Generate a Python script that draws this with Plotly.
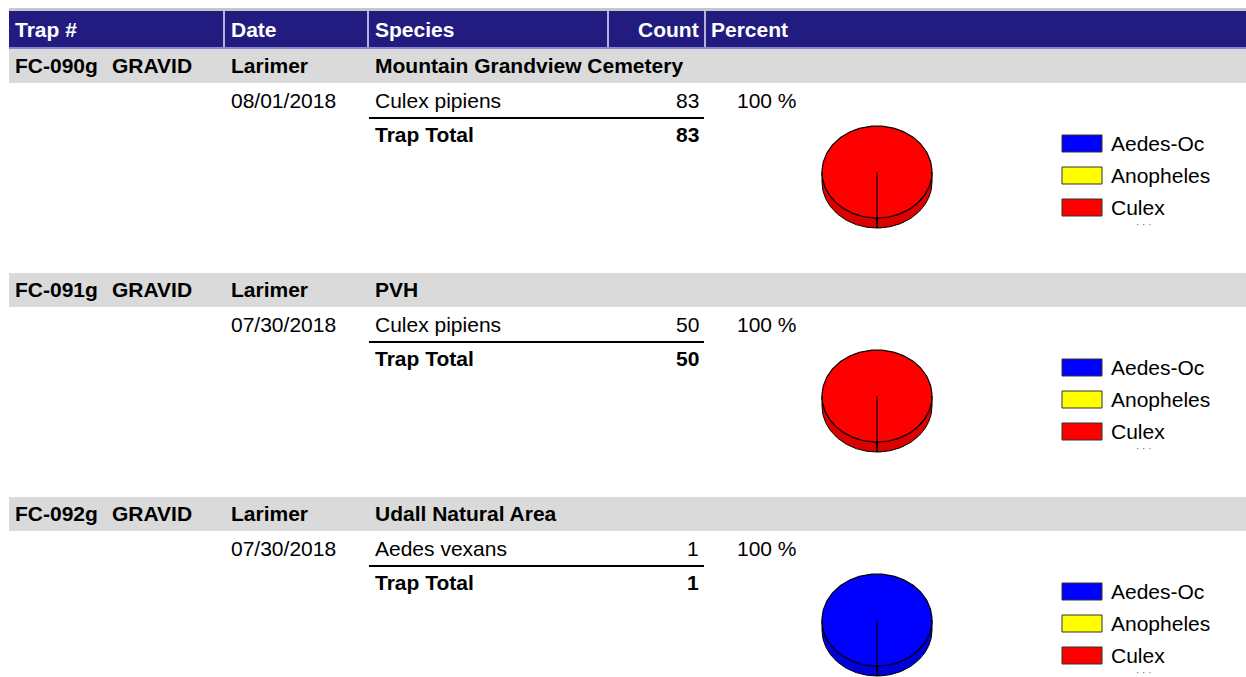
import numpy as np
import plotly.graph_objects as go

# ---------------- data ----------------
headers = ["Trap #", "Date", "Species", "Count", "Percent"]
trap_ids = ["FC-090g", "FC-091g", "FC-092g"]
trap_types = ["GRAVID", "GRAVID", "GRAVID"]
counties = ["Larimer", "Larimer", "Larimer"]
sites = ["Mountain Grandview Cemetery", "PVH", "Udall Natural Area"]
dates = ["08/01/2018", "07/30/2018", "07/30/2018"]
species = ["Culex pipiens", "Culex pipiens", "Aedes vexans"]
counts = [83, 50, 1]
species_genus = ["Culex", "Culex", "Aedes-Oc"]
genus_labels = ["Aedes-Oc", "Anopheles", "Culex"]

# ---------------- styling ----------------
genus_colors = ["#0000FF", "#FFFF00", "#FF0000"]
genus_side = ["#0000D8", "#D8D800", "#DC0000"]
W, H = 1246, 677
SEC = 224
HDR_BLUE = "#231C80"
BAND_GRAY = "#DADADA"
FONT = "Arial, Liberation Sans, sans-serif"
FS = 21

fig = go.Figure()
shapes = []
annots = []


def txt(x, y, s, anchor="left", bold=False, color="black", size=FS):
    annots.append(dict(
        x=x, y=y, xref="x", yref="y", text=f"<b>{s}</b>" if bold else s,
        showarrow=False, xanchor=anchor, yanchor="middle",
        font=dict(family=FONT, size=size, color=color)))


# header bar
shapes.append(dict(type="rect", x0=9, x1=W, y0=8, y1=11, line_width=0,
                   fillcolor="#C8C8C8", layer="below"))
shapes.append(dict(type="rect", x0=9, x1=W, y0=11, y1=47, line_width=0,
                   fillcolor=HDR_BLUE, layer="below"))
shapes.append(dict(type="rect", x0=9, x1=W, y0=47, y1=49, line_width=0,
                   fillcolor="#8C86D2", layer="below"))
for sx in [224, 368, 608, 705]:
    shapes.append(dict(type="line", x0=sx, x1=sx, y0=11, y1=47,
                       line=dict(color="#B4B2D8", width=2)))
hdr_x = [12.5, 228.5, 372.5, 701, 708.5]
hdr_anchor = ["left", "left", "left", "right", "left"]
for hx, ha, ht in zip(hdr_x, hdr_anchor, headers):
    txt(hx, 29, ht, anchor=ha, bold=True, color="white")


def arc(cx, cy, rx, ry, a0, a1):
    n = max(3, int(abs(a1 - a0) / (2 * np.pi) * 240) + 2)
    t = np.linspace(a0, a1, n)
    return cx + rx * np.sin(t), cy + ry * np.cos(t)


for i in range(len(trap_ids)):
    off = i * SEC
    # gray trap band
    shapes.append(dict(type="rect", x0=9, x1=W, y0=49 + off, y1=83 + off,
                       line_width=0, fillcolor=BAND_GRAY, layer="below"))
    txt(12.5, 65 + off, trap_ids[i], bold=True)
    txt(109.5, 65 + off, trap_types[i], bold=True)
    txt(228.5, 65 + off, counties[i], bold=True)
    txt(372.5, 65 + off, sites[i], bold=True)

    total = counts[i]
    pct = counts[i] / total * 100
    txt(228.5, 100.5 + off, dates[i])
    txt(372.5, 100.5 + off, species[i])
    txt(701, 100.5 + off, str(counts[i]), anchor="right")
    txt(734.5, 100.5 + off, f"{pct:.0f} %")
    shapes.append(dict(type="line", x0=369, x1=704, y0=118 + off, y1=118 + off,
                       line=dict(color="black", width=2)))
    txt(372.5, 134.5 + off, "Trap Total", bold=True)
    txt(701, 134.5 + off, str(total), anchor="right", bold=True)

    # pie (3D ellipse) from genus totals
    gcounts = [sum(c for c, g in zip([counts[i]], [species_genus[i]]) if g == lab)
               for lab in genus_labels]
    gsum = sum(gcounts)
    cx, cy, rx, ry, d = 877, 172 + off, 55, 46, 10
    slices = []
    start = 0.0
    for gi, gc in enumerate(gcounts):
        if gc <= 0:
            continue
        end = start + 2 * np.pi * gc / gsum
        slices.append((gi, start, end))
        start = end
    # side walls
    for gi, a0, a1 in slices:
        for f0, f1 in [(-np.pi / 2, np.pi / 2), (3 * np.pi / 2, 5 * np.pi / 2)]:
            s0, s1 = max(a0, f0), min(a1, f1)
            if s1 <= s0:
                continue
            xt, yt = arc(cx, cy, rx, ry, s0, s1)
            xb, yb = arc(cx, cy + d, rx, ry, s1, s0)
            fig.add_trace(go.Scatter(
                x=np.concatenate([xt, xb, xt[:1]]),
                y=np.concatenate([yt, yb, yt[:1]]),
                mode="lines", fill="toself", fillcolor=genus_side[gi],
                line=dict(color="black", width=1), hoverinfo="skip",
                showlegend=False))
    # top faces
    for gi, a0, a1 in slices:
        xa, ya = arc(cx, cy, rx, ry, a0, a1)
        fig.add_trace(go.Scatter(
            x=np.concatenate([[cx], xa, [cx]]),
            y=np.concatenate([[cy], ya, [cy]]),
            mode="lines", fill="toself", fillcolor=genus_colors[gi],
            line=dict(color="black", width=1.2), hoverinfo="skip",
            showlegend=False))
    # radial seam down the wall
    for gi, a0, a1 in slices:
        if np.cos(a0) >= 0:
            fig.add_trace(go.Scatter(
                x=[cx + rx * np.sin(a0), cx + rx * np.sin(a0)],
                y=[cy + ry * np.cos(a0), cy + d + ry * np.cos(a0)],
                mode="lines", line=dict(color="black", width=1.5),
                hoverinfo="skip", showlegend=False))

    # legend
    for gi, lab in enumerate(genus_labels):
        yc = 143.5 + off + gi * 32
        shapes.append(dict(type="rect", x0=1062, x1=1102, y0=yc - 8.5, y1=yc + 8.5,
                           fillcolor=genus_colors[gi],
                           line=dict(color="#333333", width=1)))
        txt(1108.5, yc, lab)
    txt(1144, 224 + off, "· · ·", anchor="center", color="#666666", size=10)

fig.update_layout(
    width=W, height=H, margin=dict(l=0, r=0, t=0, b=0),
    paper_bgcolor="white", plot_bgcolor="white",
    xaxis=dict(range=[0, W], visible=False, fixedrange=True),
    yaxis=dict(range=[H, 0], visible=False, fixedrange=True),
    shapes=shapes, annotations=annots, showlegend=False,
)
fig.write_html(
    "out.html",
    config={"displayModeBar": False},
    post_script="document.body.style.margin='0';document.body.style.overflow='hidden';",
)
